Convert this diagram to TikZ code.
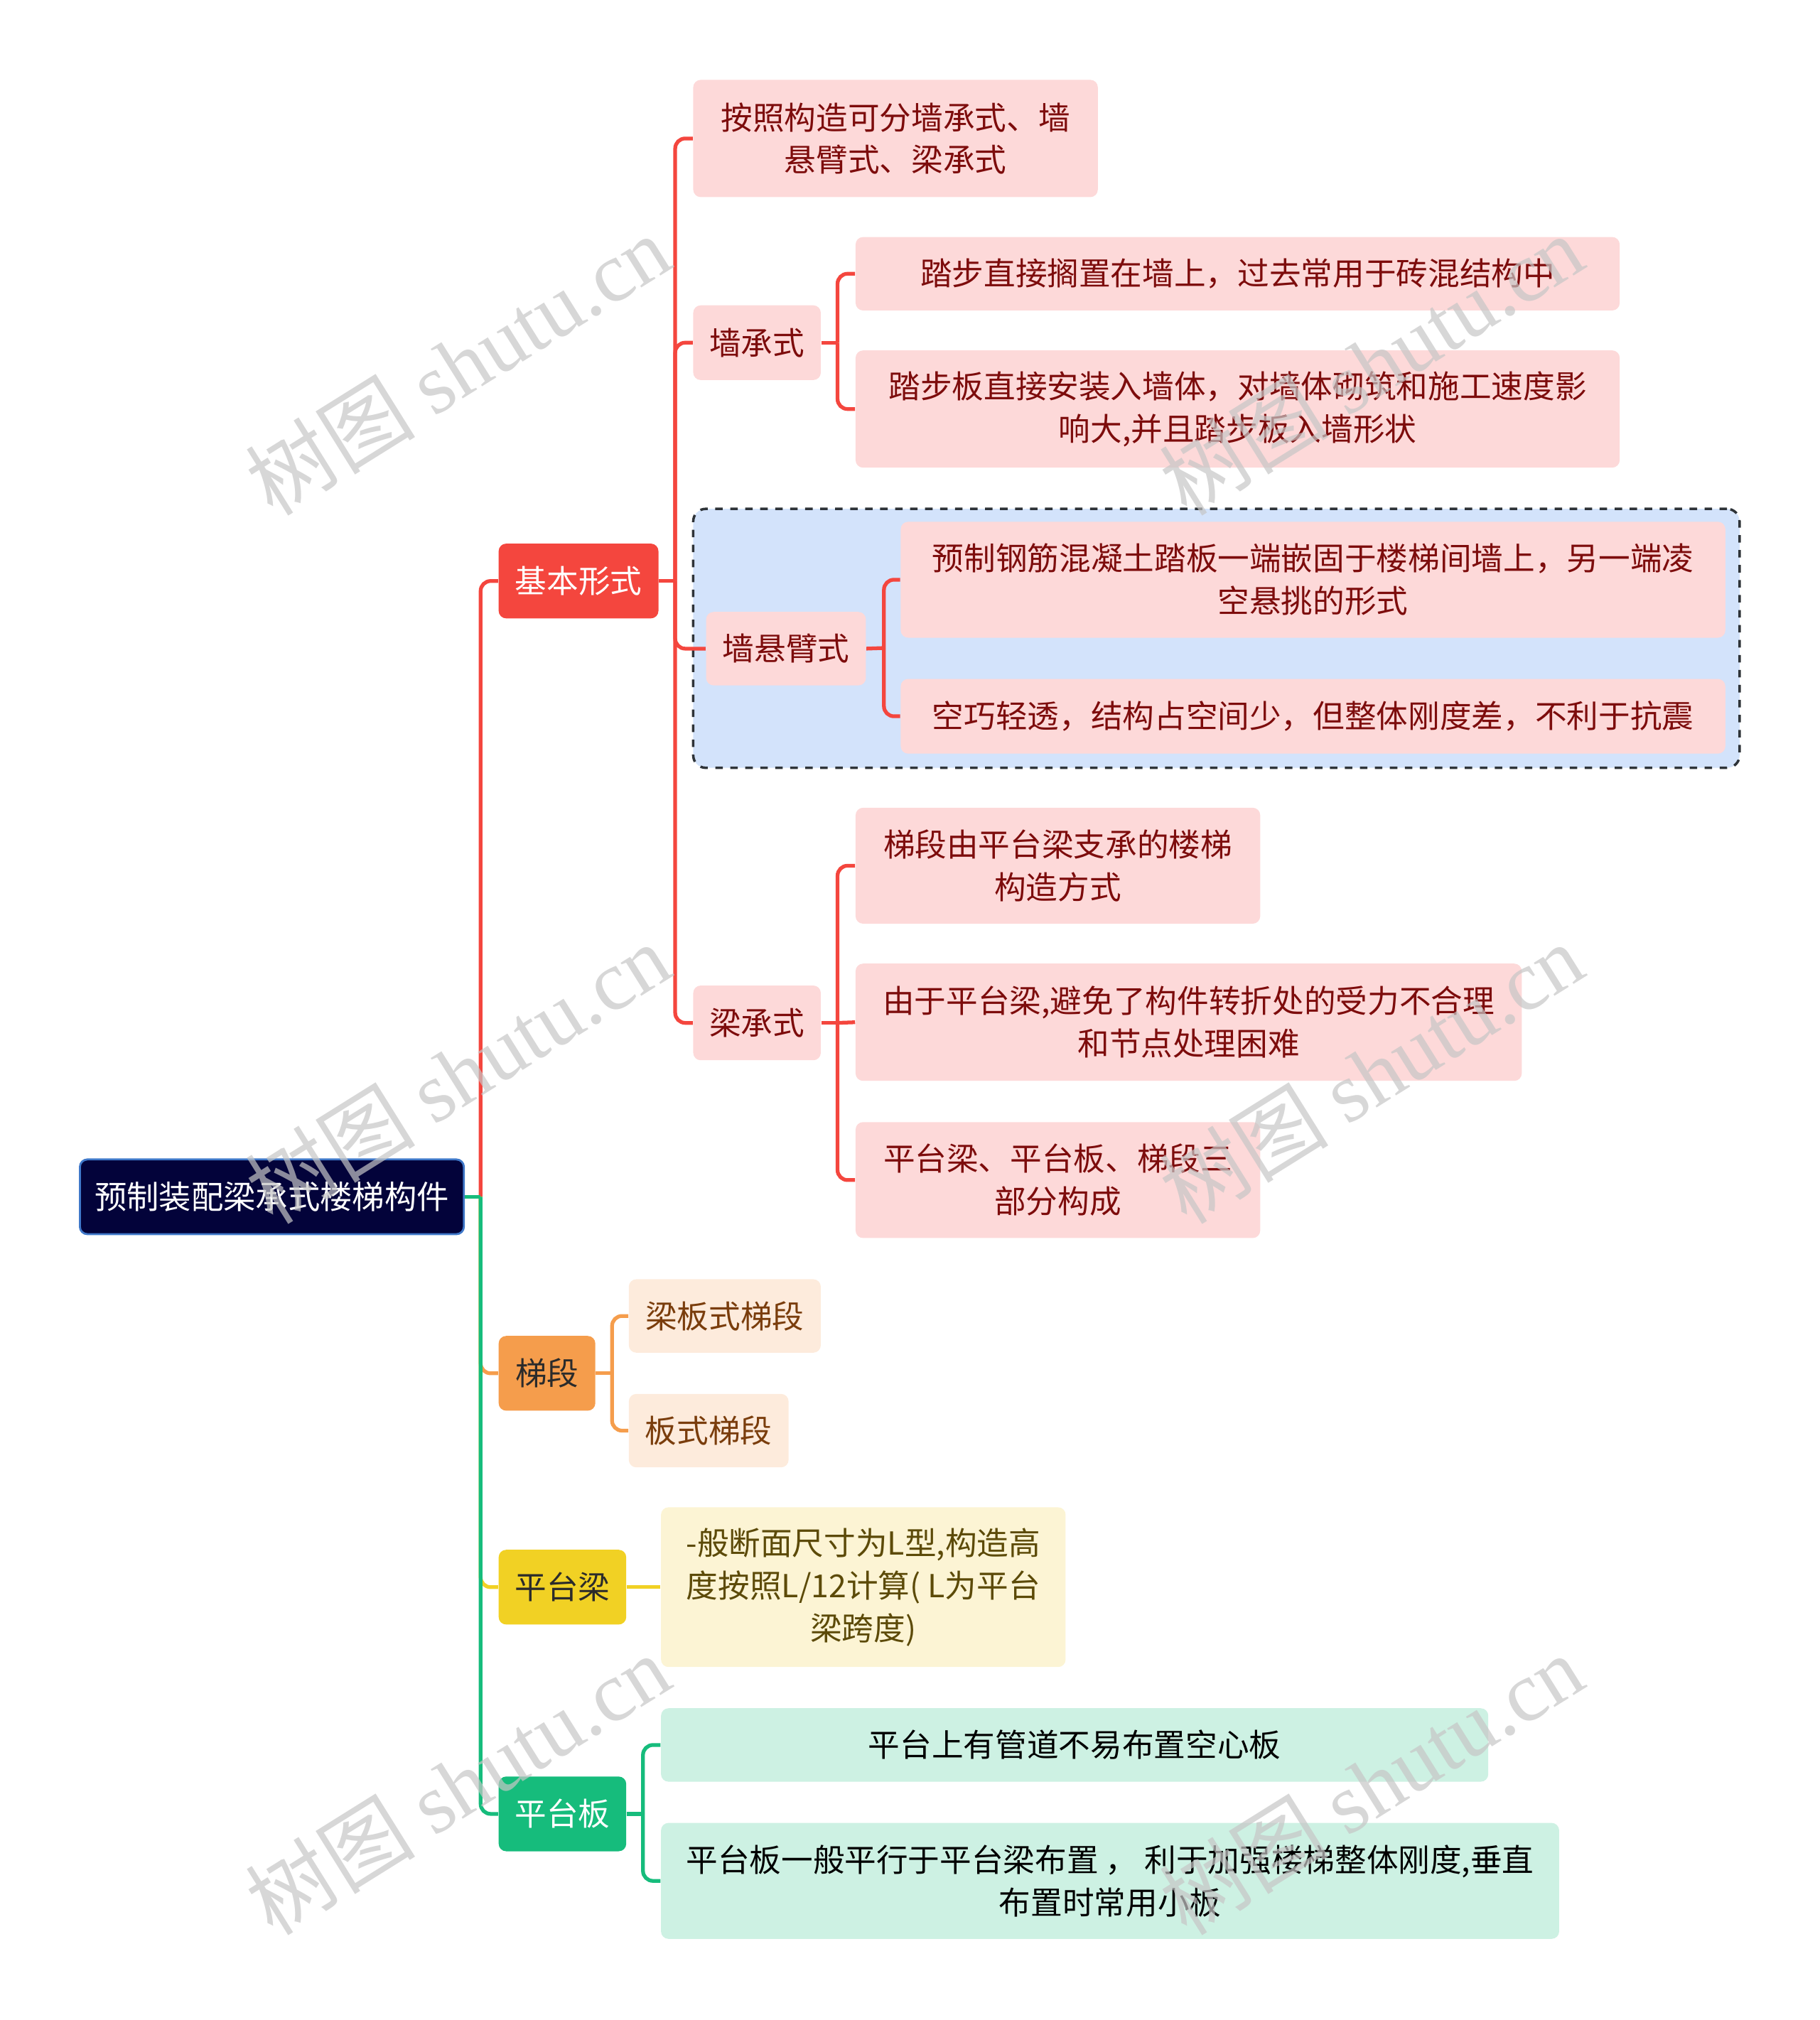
\documentclass[tikz,border=0pt]{standalone}
\usepackage{fontspec}
\setmainfont{Noto Sans CJK SC}
\newfontfamily\wmfont{Liberation Serif}
\definecolor{rootbg}{HTML}{03033A}
\definecolor{rootbd}{HTML}{3F78C9}
\definecolor{redc}{HTML}{F4463E}
\definecolor{pinkbg}{HTML}{FDD9D9}
\definecolor{pinktx}{HTML}{7D0C0C}
\definecolor{bluebg}{HTML}{D3E3FB}
\definecolor{dashc}{HTML}{2E3338}
\definecolor{orgc}{HTML}{F59D4C}
\definecolor{orgbg}{HTML}{FDEBDC}
\definecolor{orgtx}{HTML}{7A3D0C}
\definecolor{yelc}{HTML}{F1D124}
\definecolor{yelbg}{HTML}{FCF4D4}
\definecolor{yeltx}{HTML}{5C4A08}
\definecolor{grnc}{HTML}{16BC7C}
\definecolor{grnbg}{HTML}{CDF1E3}
\definecolor{darktx}{HTML}{2B2B2B}
\newcommand\bx[7]{%
  \pgfmathsetmacro\bxw{(#5-#3)*0.01813}%
  \pgfmathsetmacro\bxh{(#6-#4)*0.01813}%
  \node[#2, minimum width=\bxw cm, minimum height=\bxh cm] (#1) at ({(#3+#5)/2},{(#4+#6)/2}) {#7};}
\begin{document}
\begin{tikzpicture}[x=0.01813cm,y=-0.01813cm,
  base/.style={rounded corners=3pt, align=center, inner sep=0pt, font=\fontsize{12.7}{17}\selectfont},
  rootbox/.style={base, fill=rootbg, draw=rootbd, line width=0.8pt, text=white, font=\fontsize{12.9}{17}\selectfont},
  redbox/.style={base, fill=redc, text=white},
  orgbox/.style={base, fill=orgc, text=darktx},
  yelbox/.style={base, fill=yelc, text=darktx},
  grnbox/.style={base, fill=grnc, text=white},
  pk/.style={base, fill=pinkbg, text=pinktx},
  og/.style={base, fill=orgbg, text=orgtx},
  yl/.style={base, fill=yelbg, text=yeltx},
  gn/.style={base, fill=grnbg, text=black},
  bluebox/.style={rounded corners=5pt, fill=bluebg, draw=dashc, dashed, line width=1pt},
  redl/.style={draw=redc, line width=1.5pt, rounded corners=4pt},
  orgl/.style={draw=orgc, line width=1.5pt, rounded corners=4pt},
  yell/.style={draw=yelc, line width=1.5pt, rounded corners=4pt},
  grnl/.style={draw=grnc, line width=1.5pt, rounded corners=4pt},
  wm/.style={text=gray!45, opacity=0.7, font=\fontsize{34}{34}\selectfont, rotate=32, inner sep=0pt}
]
\useasboundingbox (0,0) rectangle (1412,1568);

% dashed highlight box
\bx{hl}{bluebox}{538}{395}{1350}{596}{}

% nodes
\bx{root}{rootbox}{62}{900}{360}{958}{预制装配梁承式楼梯构件}
\bx{jb}{redbox}{387}{422}{511}{480}{基本形式}
\bx{td}{orgbox}{387}{1037}{462}{1095}{梯段}
\bx{ptl}{yelbox}{387}{1203}{486}{1261}{平台梁}
\bx{ptb}{grnbox}{387}{1379}{486}{1437}{平台板}

\bx{a1}{pk}{538}{62}{852}{153}{按照构造可分墙承式、墙\\悬臂式、梁承式}
\bx{a2}{pk}{538}{237}{637}{295}{墙承式}
\bx{a3}{pk}{548}{475}{672}{532}{墙悬臂式}
\bx{a4}{pk}{538}{765}{637}{823}{梁承式}

\bx{b1}{pk}{664}{184}{1257}{241}{踏步直接搁置在墙上，过去常用于砖混结构中}
\bx{b2}{pk}{664}{272}{1257}{363}{踏步板直接安装入墙体，对墙体砌筑和施工速度影\\响大,并且踏步板入墙形状}

\bx{c1}{pk}{699}{405}{1339}{495}{预制钢筋混凝土踏板一端嵌固于楼梯间墙上，另一端凌\\空悬挑的形式}
\bx{c2}{pk}{699}{527}{1339}{585}{空巧轻透，结构占空间少，但整体刚度差，不利于抗震}

\bx{d1}{pk}{664}{627}{978}{717}{梯段由平台梁支承的楼梯\\构造方式}
\bx{d2}{pk}{664}{748}{1181}{839}{由于平台梁,避免了构件转折处的受力不合理\\和节点处理困难}
\bx{d3}{pk}{664}{871}{978}{961}{平台梁、平台板、梯段三\\部分构成}

\bx{e1}{og}{488}{993}{637}{1050}{梁板式梯段}
\bx{e2}{og}{488}{1082}{612}{1139}{板式梯段}

\bx{f1}{yl}{513}{1170}{827}{1294}{-般断面尺寸为L型,构造高\\度按照L/12计算( L为平台\\梁跨度)}

\bx{g1}{gn}{513}{1326}{1155}{1383}{平台上有管道不易布置空心板}
\bx{g2}{gn}{513}{1415}{1210}{1505}{平台板一般平行于平台梁布置 ， 利于加强楼梯整体刚度,垂直\\布置时常用小板}

% trunk coordinates
\coordinate (T0) at (373,929);
\coordinate (T1) at (524,451);
\coordinate (T2) at (650,266);
\coordinate (T3) at (686,503);
\coordinate (T4) at (650,794);
\coordinate (T5) at (475,1066);
\coordinate (T6) at (499,1408);

% root connectors
\draw[redl] (T0) |- (jb.west);
\draw[orgl] (T0) |- (td.west);
\draw[yell] (T0) |- (ptl.west);
\draw[grnl] (T0) |- (ptb.west);
\draw[grnl] (root.east) -- (T0);

% 基本形式
\draw[redl] (jb.east) -- (T1);
\draw[redl] (T1) |- (a1.west);
\draw[redl] (T1) |- (a2.west);
\draw[redl] (T1) |- (a3.west);
\draw[redl] (T1) |- (a4.west);

\draw[redl] (a2.east) -- (T2);
\draw[redl] (T2) |- (b1.west);
\draw[redl] (T2) |- (b2.west);

\draw[redl] (a3.east) -- (T3);
\draw[redl] (T3) |- (c1.west);
\draw[redl] (T3) |- (c2.west);

\draw[redl] (a4.east) -- (T4);
\draw[redl] (T4) |- (d1.west);
\draw[redl] (T4) -- (d2.west);
\draw[redl] (T4) |- (d3.west);

% 梯段
\draw[orgl] (td.east) -- (T5);
\draw[orgl] (T5) |- (e1.west);
\draw[orgl] (T5) |- (e2.west);

% 平台梁
\draw[yell] (ptl.east) -- (f1.west);

% 平台板
\draw[grnl] (ptb.east) -- (T6);
\draw[grnl] (T6) |- (g1.west);
\draw[grnl] (T6) |- (g2.west);

% watermarks
\node[wm] (w1) at (355,283) {树图 {\wmfont shutu.cn}};
\node[wm] (w2) at (1064,283) {树图 {\wmfont shutu.cn}};
\node[wm] (w3) at (355,833) {树图 {\wmfont shutu.cn}};
\node[wm] (w4) at (1064,833) {树图 {\wmfont shutu.cn}};
\node[wm] (w5) at (355,1385) {树图 {\wmfont shutu.cn}};
\node[wm] (w6) at (1064,1385) {树图 {\wmfont shutu.cn}};
\end{tikzpicture}
\end{document}
